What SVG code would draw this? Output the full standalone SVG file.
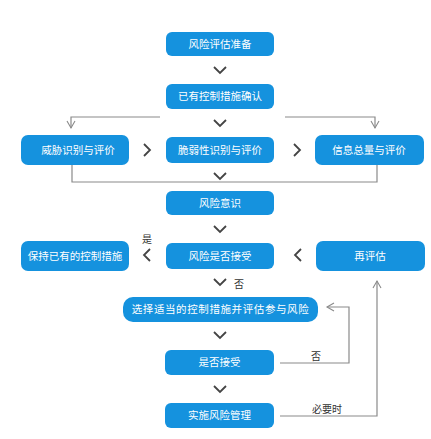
<svg xmlns="http://www.w3.org/2000/svg" width="431" height="439" viewBox="0 0 431 439">
<defs>
<style>
.n{fill:#1592de}
.t{fill:#fff;font-family:"Noto Sans CJK SC","Liberation Sans",sans-serif;font-size:10.5px;text-anchor:middle}
.l{fill:#333;font-family:"Noto Sans CJK SC","Liberation Sans",sans-serif;font-size:10px;text-anchor:middle}
.c{fill:none;stroke:#8a8a8a;stroke-width:1.2}
.v{fill:none;stroke:#444;stroke-width:1.8}
</style>
<marker id="ah" markerWidth="10" markerHeight="10" refX="8" refY="5" orient="auto" markerUnits="userSpaceOnUse">
<path d="M1,1 L8,5 L1,9" fill="none" stroke="#8a8a8a" stroke-width="1.1"/>
</marker>
</defs>
<rect width="431" height="439" fill="#fff"/>
<g id="connectors">
<polyline class="c" points="160,117 71,117 71,128" marker-end="url(#ah)"/>
<polyline class="c" points="285,117 375,117 375,128" marker-end="url(#ah)"/>
<polyline class="c" points="72,165 72,182 377,182 377,165"/>
<polyline class="c" points="280,363 349,363 349,307 327,307" marker-end="url(#ah)"/>
<polyline class="c" points="280,416 377,416 377,281" marker-end="url(#ah)"/>
<polyline class="v" points="214,67 220,73 226,67"/>
<polyline class="v" points="214,120 220,126 226,120"/>
<polyline class="v" points="144,144 150,150 144,156"/>
<polyline class="v" points="294,144 300,150 294,156"/>
<polyline class="v" points="214,173 220,179 226,173"/>
<polyline class="v" points="214,226 220,232 226,226"/>
<polyline class="v" points="150,249 144,255 150,261"/>
<polyline class="v" points="301,249 295,255 301,261"/>
<polyline class="v" points="214,279 220,285 226,279"/>
<polyline class="v" points="214,332 220,338 226,332"/>
<polyline class="v" points="214,386 220,392 226,386"/>
<text class="l" x="147" y="243">是</text>
<text class="l" x="239" y="288">否</text>
<text class="l" x="316" y="360">否</text>
<text class="l" x="327" y="413">必要时</text>
</g>
<g id="n1"><rect class="n" x="166" y="32" width="108" height="24" rx="6"/><text class="t" x="220" y="47.5">风险评估准备</text></g>
<g id="n2"><rect class="n" x="166" y="84" width="108" height="25" rx="6"/><text class="t" x="220" y="100">已有控制措施确认</text></g>
<g id="n3"><rect class="n" x="21" y="135" width="108" height="30" rx="7"/><text class="t" x="78" y="153.5">威胁识别与评价</text></g>
<g id="n4"><rect class="n" x="166" y="137" width="108" height="26" rx="6"/><text class="t" x="220" y="153.5">脆弱性识别与评价</text></g>
<g id="n5"><rect class="n" x="315" y="135" width="109" height="30" rx="7"/><text class="t" x="369" y="153.5">信息总量与评价</text></g>
<g id="n6"><rect class="n" x="166" y="191" width="108" height="24" rx="6"/><text class="t" x="220" y="206.5">风险意识</text></g>
<g id="n7"><rect class="n" x="21" y="241" width="108" height="30" rx="7"/><text class="t" x="75" y="259.5">保持已有的控制措施</text></g>
<g id="n8"><rect class="n" x="166" y="243" width="108" height="26" rx="6"/><text class="t" x="220" y="259.5">风险是否接受</text></g>
<g id="n9"><rect class="n" x="316" y="241" width="109" height="30" rx="7"/><text class="t" x="370" y="259.5">再评估</text></g>
<g id="n10"><rect class="n" x="123" y="297" width="195" height="25" rx="10"/><text class="t" x="220.5" y="313" style="letter-spacing:0.6px">选择适当的控制措施并评估参与风险</text></g>
<g id="n11"><rect class="n" x="165" y="350" width="109" height="25" rx="6"/><text class="t" x="219.5" y="366">是否接受</text></g>
<g id="n12"><rect class="n" x="165" y="403" width="109" height="25" rx="6"/><text class="t" x="219.5" y="419">实施风险管理</text></g>
</svg>
